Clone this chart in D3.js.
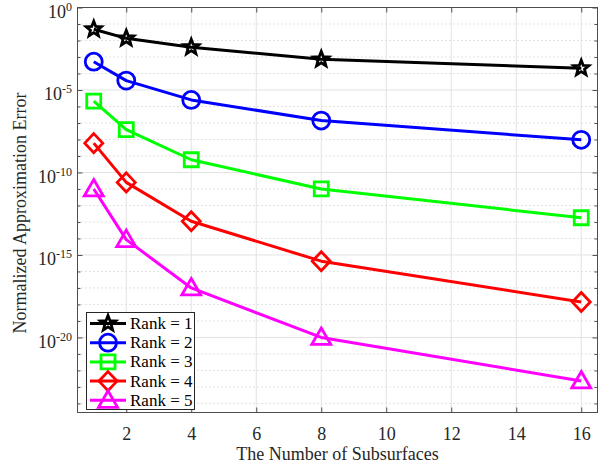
<!DOCTYPE html>
<html>
<head>
<meta charset="utf-8">
<script src="https://cdn.jsdelivr.net/npm/d3@7"></script>
<style>
  html, body { margin: 0; padding: 0; background: #fff; }
  svg { display: block; font-family: "Liberation Serif", "Times New Roman", serif; }
</style>
</head>
<body>
<div id="chart"></div>
<script>
// data
const subsurfaces = [1, 2, 4, 8, 16];
const rank1 = [4.8e-2, 1.35e-2, 3.9e-3, 7.2e-4, 2.1e-4];
const rank2 = [5.2e-4, 3.7e-5, 2.5e-6, 1.4e-7, 9.5e-9];
const rank3 = [2.1e-6, 4.0e-8, 5.9e-10, 1.0e-11, 1.8e-13];
const rank4 = [6.0e-9, 2.5e-11, 1.1e-13, 4.2e-16, 1.4e-18];
const rank5 = [1.0e-11, 8.5e-15, 1.0e-17, 1.0e-20, 2.3e-23];
const seriesNames = ["Rank = 1", "Rank = 2", "Rank = 3", "Rank = 4", "Rank = 5"];
const xTicks = [2, 4, 6, 8, 10, 12, 14, 16];
const yMajorExp = [0, -5, -10, -15, -20];
const yMinorExp = d3.range(0, -25, -1);

const series = [
  { name: seriesNames[0], values: rank1, color: "#000000", marker: "star" },
  { name: seriesNames[1], values: rank2, color: "#0000ff", marker: "circle" },
  { name: seriesNames[2], values: rank3, color: "#00ff00", marker: "square" },
  { name: seriesNames[3], values: rank4, color: "#ff0000", marker: "diamond" },
  { name: seriesNames[4], values: rank5, color: "#ff00ff", marker: "triangle" }
];

const W = 609, H = 469;
const plot = { left: 77.5, right: 597.5, top: 7.5, bottom: 412.5 };

const svg = d3.select("#chart").append("svg")
  .attr("width", W).attr("height", H);
svg.append("rect").attr("width", W).attr("height", H).attr("fill", "#fff");

const x = d3.scaleLinear().domain([0.5, 16.5]).range([plot.left, plot.right]);
const y = d3.scaleLog().domain([Math.pow(10, -24.55), 1]).range([plot.bottom, plot.top]);

// grid
const grid = svg.append("g");
grid.selectAll(".minor").data(yMinorExp.filter(e => e % 5 !== 0)).join("line")
  .attr("x1", plot.left).attr("x2", plot.right)
  .attr("y1", e => y(Math.pow(10, e))).attr("y2", e => y(Math.pow(10, e)))
  .attr("stroke", "#c4c4c4").attr("stroke-width", 1).attr("stroke-dasharray", "1,3");
grid.selectAll(".majy").data(yMajorExp).join("line")
  .attr("x1", plot.left).attr("x2", plot.right)
  .attr("y1", e => y(Math.pow(10, e))).attr("y2", e => y(Math.pow(10, e)))
  .attr("stroke", "#e2e2e2").attr("stroke-width", 1);
grid.selectAll(".majx").data(xTicks).join("line")
  .attr("x1", d => x(d)).attr("x2", d => x(d))
  .attr("y1", plot.top).attr("y2", plot.bottom)
  .attr("stroke", "#e2e2e2").attr("stroke-width", 1);

// marker shapes
function markerPath(type) {
  switch (type) {
    case "circle": return d3.arc()({ innerRadius: 0, outerRadius: 8.5, startAngle: 0, endAngle: 2 * Math.PI });
    case "square": return "M-7,-7H7V7H-7Z";
    case "diamond": return "M0,-9.5L9,0L0,9.5L-9,0Z";
    case "triangle": return "M0,-9.5L9.5,7L-9.5,7Z";
    case "star": {
      const pts = d3.range(10).map(i => {
        const r = i % 2 === 0 ? 8 : 3.4;
        const a = -Math.PI / 2 + i * Math.PI / 5;
        return [r * Math.cos(a), r * Math.sin(a)];
      });
      return "M" + pts.map(p => p.join(",")).join("L") + "Z";
    }
  }
}

const line = d3.line().x(d => x(d[0])).y(d => y(d[1]));

const lines = svg.append("g");
series.forEach(s => {
  const pts = subsurfaces.map((v, i) => [v, s.values[i]]);
  lines.append("path")
    .datum(pts)
    .attr("d", line)
    .attr("fill", "none")
    .attr("stroke", s.color)
    .attr("stroke-width", 3)
    .attr("stroke-linejoin", "round");
  lines.selectAll(null).data(pts).join("path")
    .attr("transform", d => `translate(${x(d[0])},${y(d[1])})`)
    .attr("d", markerPath(s.marker))
    .attr("fill", "none")
    .attr("stroke", s.color)
    .attr("stroke-width", 2.8)
    .attr("stroke-linejoin", "miter");
});

// axes box
const axisColor = "#4d4d4d";
svg.append("rect")
  .attr("x", plot.left).attr("y", plot.top)
  .attr("width", plot.right - plot.left).attr("height", plot.bottom - plot.top)
  .attr("fill", "none").attr("stroke", axisColor).attr("stroke-width", 1);

const xAxis = svg.append("g")
  .attr("transform", `translate(0,${plot.bottom})`)
  .call(d3.axisBottom(x).tickValues(xTicks).tickSizeInner(-5).tickSizeOuter(0).tickPadding(15));
xAxis.attr("font-family", null);
xAxis.select(".domain").remove();
xAxis.selectAll("line").attr("stroke", axisColor);
xAxis.selectAll("text").attr("font-size", 18).attr("fill", "#262626");

const xAxisTop = svg.append("g")
  .attr("transform", `translate(0,${plot.top})`)
  .call(d3.axisTop(x).tickValues(xTicks).tickSizeInner(-5).tickSizeOuter(0).tickFormat(""));
xAxisTop.select(".domain").remove();
xAxisTop.selectAll("line").attr("stroke", axisColor);

function yTicks(side, values, size) {
  const ax = side === "left" ? d3.axisLeft(y) : d3.axisRight(y);
  const g = svg.append("g")
    .attr("transform", `translate(${side === "left" ? plot.left : plot.right},0)`)
    .call(ax.tickValues(values).tickSizeInner(-size).tickSizeOuter(0).tickFormat(""));
  g.select(".domain").remove();
  g.selectAll("line").attr("stroke", axisColor);
}
const minorVals = yMinorExp.filter(e => e % 5 !== 0).map(e => Math.pow(10, e));
const majorVals = yMajorExp.map(e => Math.pow(10, e));
yTicks("left", minorVals, 3);
yTicks("right", minorVals, 3);
yTicks("left", majorVals, 5);
yTicks("right", majorVals, 5);

// y tick labels 10^n
const yLab = svg.append("g").attr("fill", "#262626");
yMajorExp.forEach(e => {
  const t = yLab.append("text")
    .attr("x", 72).attr("y", y(Math.pow(10, e)) + 10.5)
    .attr("text-anchor", "end");
  t.append("tspan").attr("font-size", 18).text("10");
  t.append("tspan").attr("font-size", 12).attr("dy", -7).text(String(e));
});

// axis titles
svg.append("text")
  .attr("x", (plot.left + plot.right) / 2).attr("y", 460)
  .attr("text-anchor", "middle").attr("font-size", 18).attr("fill", "#262626")
  .text("The Number of Subsurfaces");
svg.append("text")
  .attr("transform", `translate(26,${(plot.top + plot.bottom) / 2 + 3}) rotate(-90)`)
  .attr("text-anchor", "middle").attr("font-size", 18).attr("fill", "#262626")
  .text("Normalized Approximation Error");

// legend
const legend = svg.append("g");
legend.append("rect")
  .attr("x", 86.5).attr("y", 312.5).attr("width", 108).attr("height", 97)
  .attr("fill", "#fff").attr("stroke", "#262626").attr("stroke-width", 1);
series.forEach((s, i) => {
  const ly = 323.5 + i * 19.2;
  legend.append("line")
    .attr("x1", 90).attr("x2", 126).attr("y1", ly).attr("y2", ly)
    .attr("stroke", s.color).attr("stroke-width", 3);
  legend.append("path")
    .attr("transform", `translate(108,${ly})`)
    .attr("d", markerPath(s.marker))
    .attr("fill", "none").attr("stroke", s.color).attr("stroke-width", 2.8);
  legend.append("text")
    .attr("x", 130).attr("y", ly + 5.5)
    .attr("font-size", 17).attr("fill", "#000")
    .text(s.name);
});
</script>
</body>
</html>
